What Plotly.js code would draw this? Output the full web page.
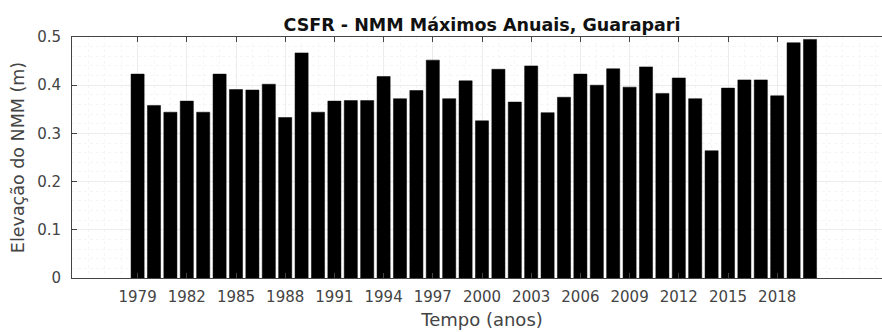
<!DOCTYPE html>
<html>
<head>
<meta charset="utf-8">
<script src="https://cdn.plot.ly/plotly-3.0.1.min.js"></script>
<style>
html,body{margin:0;padding:0;overflow:hidden;background:#fff;}
#chart{width:900px;height:332px;}
</style>
</head>
<body>
<div id="chart"></div>
<script>
const years = [1979,1980,1981,1982,1983,1984,1985,1986,1987,1988,1989,1990,1991,1992,1993,1994,1995,1996,1997,1998,1999,2000,2001,2002,2003,2004,2005,2006,2007,2008,2009,2010,2011,2012,2013,2014,2015,2016,2017,2018,2019,2020];
const maxLevel = [0.423,0.358,0.344,0.367,0.344,0.423,0.391,0.390,0.402,0.333,0.467,0.344,0.367,0.368,0.368,0.418,0.372,0.389,0.452,0.372,0.409,0.326,0.433,0.365,0.440,0.343,0.375,0.423,0.400,0.434,0.396,0.438,0.383,0.415,0.372,0.264,0.394,0.411,0.411,0.378,0.488,0.495];
const xTicks = [1979,1982,1985,1988,1991,1994,1997,2000,2003,2006,2009,2012,2015,2018];
const yTicks = [0,0.1,0.2,0.3,0.4,0.5];
const yTickText = ['0','0.1','0.2','0.3','0.4','0.5'];

const axisColor = '#444444';
const fontFam = 'DejaVu Sans, Liberation Sans, Arial, sans-serif';

const trace = {
  type: 'bar',
  x: years,
  y: maxLevel,
  width: 0.8,
  marker: {color: '#000000', line: {color: '#000000', width: 0.5}},
  hoverinfo: 'x+y'
};

const layout = {
  width: 900,
  height: 332,
  margin: {l: 72, r: 8, t: 37, b: 54},
  paper_bgcolor: '#ffffff',
  plot_bgcolor: '#ffffff',
  showlegend: false,
  font: {family: fontFam, size: 15, color: axisColor},
  title: {
    text: '<b>CSFR - NMM Máximos Anuais, Guarapari</b>',
    font: {family: fontFam, size: 17.5, color: '#111111'},
    x: 0.5, xref: 'paper', xanchor: 'center',
    y: 1, yref: 'paper', yanchor: 'bottom', pad: {b: 6}
  },
  xaxis: {
    range: [1975, 2025],
    tickmode: 'array',
    tickvals: xTicks,
    ticktext: xTicks.map(String),
    ticks: 'inside',
    ticklen: 5,
    tickcolor: axisColor,
    showline: true,
    linecolor: axisColor,
    linewidth: 1,
    mirror: 'ticks',
    showgrid: true,
    gridcolor: '#ececec',
    gridwidth: 1,
    minor: {dtick: 1, showgrid: true, gridcolor: '#f5f5f5', griddash: 'dot'},
    zeroline: false,
    ticklabelstandoff: 5,
    tickfont: {family: fontFam, size: 15, color: axisColor},
    title: {text: 'Tempo (anos)', font: {family: fontFam, size: 18, color: axisColor}, standoff: 8}
  },
  yaxis: {
    range: [0, 0.5],
    tickmode: 'array',
    tickvals: yTicks,
    ticktext: yTickText,
    ticks: 'inside',
    ticklen: 5,
    tickcolor: axisColor,
    showline: true,
    linecolor: axisColor,
    linewidth: 1,
    mirror: 'ticks',
    showgrid: true,
    gridcolor: '#ececec',
    gridwidth: 1,
    minor: {dtick: 0.02, showgrid: true, gridcolor: '#f5f5f5', griddash: 'dot'},
    zeroline: false,
    ticklabelstandoff: 7,
    tickfont: {family: fontFam, size: 15, color: axisColor},
    title: {text: 'Elevação do NMM (m)', font: {family: fontFam, size: 17.5, color: axisColor}, standoff: 8}
  },
  bargap: 0.2
};

Plotly.newPlot('chart', [trace], layout, {staticPlot: true, displayModeBar: false});
</script>
</body>
</html>
